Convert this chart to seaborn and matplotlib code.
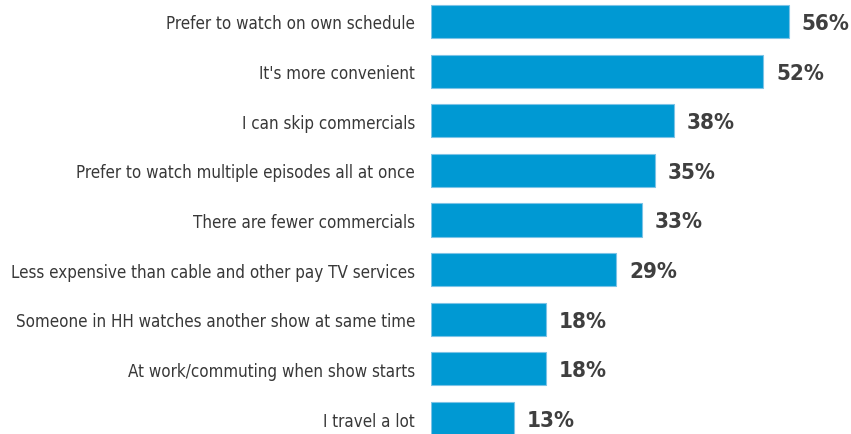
import matplotlib
matplotlib.use("Agg")
import matplotlib.pyplot as plt
import seaborn as sns
import pandas as pd

categories = [
    "Prefer to watch on own schedule",
    "It's more convenient",
    "I can skip commercials",
    "Prefer to watch multiple episodes all at once",
    "There are fewer commercials",
    "Less expensive than cable and other pay TV services",
    "Someone in HH watches another show at same time",
    "At work/commuting when show starts",
    "I travel a lot",
]
values = [56, 52, 38, 35, 33, 29, 18, 18, 13]

df = pd.DataFrame({"reason": categories, "pct": values})

sns.set_theme(style="white")
plt.rcParams["font.family"] = ["DejaVu Sans"]

fig = plt.figure(figsize=(8.51, 4.35), dpi=100)
ax = fig.add_axes([431 / 851, 0, 1 - 431 / 851, 1])

sns.barplot(data=df, x="pct", y="reason", orient="h", color="#0099D3",
            saturation=1, width=0.665, edgecolor="#7cc3e6", linewidth=0.8, ax=ax)

ax.set_xlim(0, 420 / 6.39)
ax.set_ylim(8.312, -0.453)
ax.set_xlabel("")
ax.set_ylabel("")
ax.set_xticks([])
for s in ax.spines.values():
    s.set_visible(False)
ax.tick_params(axis="y", length=0, pad=11.5, labelsize=12.2, labelcolor="#383838")
for lab in ax.get_yticklabels():
    lab.set_fontstretch("condensed")

for i, v in enumerate(values):
    ax.text(v + 13 / 6.39, i + 0.03, f"{v}%", va="center", ha="left",
            fontsize=16, fontweight="bold", fontstretch="condensed",
            color="#3f3f3f")

fig.savefig("out.png", dpi=100)
